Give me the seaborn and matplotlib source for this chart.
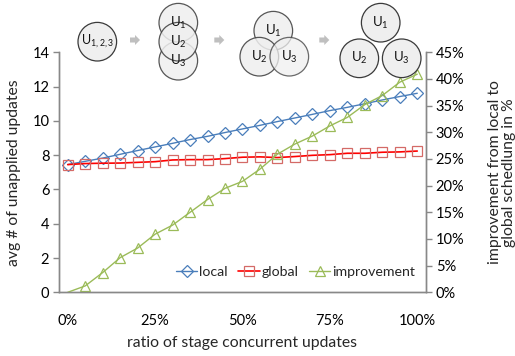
import numpy as np
import pandas as pd
import matplotlib
matplotlib.use("Agg")
import matplotlib.pyplot as plt
import seaborn as sns
from matplotlib.patches import Circle, Polygon

ratio = [0, 5, 10, 15, 20, 25, 30, 35, 40, 45, 50, 55, 60, 65, 70, 75, 80, 85, 90, 95, 100]
local = [7.45, 7.64, 7.83, 8.05, 8.27, 8.48, 8.69, 8.91, 9.10, 9.32, 9.53,
         9.74, 9.96, 10.17, 10.38, 10.60, 10.79, 11.00, 11.22, 11.42, 11.61]
glob = [7.45, 7.51, 7.53, 7.54, 7.58, 7.62, 7.72, 7.74, 7.74, 7.80, 7.88,
        7.90, 7.86, 7.92, 7.99, 8.03, 8.11, 8.11, 8.17, 8.19, 8.24]
improvement = [0.0, 1.2, 3.7, 6.5, 8.3, 10.9, 12.6, 15.0, 17.4, 19.5, 20.8,
               23.1, 25.9, 27.8, 29.3, 31.2, 32.8, 35.2, 36.9, 39.4, 40.9]
x_ticks = [0, 25, 50, 75, 100]
x_ticklabels = ["0%", "25%", "50%", "75%", "100%"]
y_ticks = [0, 2, 4, 6, 8, 10, 12, 14]
y2_ticks = [0, 5, 10, 15, 20, 25, 30, 35, 40, 45]
y2_ticklabels = [f"{v}%" for v in y2_ticks]

sns.set_style("white")
plt.rcParams["font.family"] = ["Lato", "DejaVu Sans"]
plt.rcParams["mathtext.default"] = "regular"

W, H = 515, 356
fig = plt.figure(figsize=(W / 100, H / 100), dpi=100)
ax = fig.add_axes([59 / W, 1 - 292.3 / H, (426 - 59) / W, (292.3 - 52.3) / H])
ax2 = ax.twinx()

df = pd.DataFrame({"ratio": ratio, "local": local, "global": glob, "improvement": improvement})

c_local = "#4a7ebb"
c_glob_line = "#ff0000"
c_glob_mk = "#d46a67"
c_imp = "#9bbb59"

sns.lineplot(data=df, x="ratio", y="local", ax=ax, color=c_local, lw=1.0,
             marker="D", markersize=6, markerfacecolor="none",
             markeredgecolor=c_local, markeredgewidth=0.9, label="local", legend=False)
sns.lineplot(data=df, x="ratio", y="global", ax=ax, color=c_glob_line, lw=1.2,
             marker="s", markersize=7.5, markerfacecolor="none",
             markeredgecolor=c_glob_mk, markeredgewidth=0.9, label="global", legend=False)
sns.lineplot(data=df, x="ratio", y="improvement", ax=ax2, color=c_imp, lw=1.0,
             marker="^", markersize=7.5, markerfacecolor="none",
             markeredgecolor=c_imp, markeredgewidth=0.9, label="improvement",
             markevery=list(range(1, len(ratio))), legend=False)

spine_c = "#888888"
for a in (ax, ax2):
    a.set_xlim(-2.5, 102.5)
    for s in a.spines.values():
        s.set_color(spine_c)
        s.set_linewidth(1.0)
    a.spines["top"].set_visible(False)

ax.set_ylim(0, 14)
ax.set_yticks(y_ticks)
ax.set_xticks(x_ticks)
ax.set_xticklabels(x_ticklabels)
ax2.set_ylim(0, 45)
ax2.set_yticks(y2_ticks)
ax2.set_yticklabels(y2_ticklabels)

ax.tick_params(axis="y", which="major", left=True, length=4, width=1, color=spine_c,
               labelsize=10.5, pad=3, labelcolor="#000000")
ax.tick_params(axis="x", bottom=False, labelsize=10.5, pad=12, labelcolor="#000000")
ax2.tick_params(axis="y", right=True, length=4, width=1, color=spine_c,
                labelsize=10.5, pad=3, labelcolor="#000000")

lab_fs = 11.3
ax.set_xlabel("ratio of stage concurrent updates", fontsize=lab_fs, labelpad=6)
ax.set_ylabel("avg # of unapplied updates", fontsize=lab_fs, labelpad=8)
ax2.set_ylabel("improvement from local to\nglobal schedlung in %", fontsize=lab_fs,
               labelpad=17, linespacing=0.95)

h1, l1 = ax.get_legend_handles_labels()
h2, l2 = ax2.get_legend_handles_labels()
leg = ax2.legend(h1 + h2, l1 + l2, loc="center right", bbox_to_anchor=(0.985, 0.085),
                 ncol=3, frameon=False, fontsize=10.2, handlelength=1.5,
                 handletextpad=0.12, columnspacing=0.75, borderaxespad=0)

# decorative illustration on top
ov = fig.add_axes([0, 0, 1, 1], zorder=10)
ov.set_xlim(0, W)
ov.set_ylim(H, 0)
ov.set_aspect("equal")
ov.axis("off")
ov.patch.set_alpha(0)

R = 19.3
fill = "#efefef"
edge = "#3a3a3a"

def circ(x, y, label, alpha=0.85, fs=9.5):
    ov.add_patch(Circle((x, y), R, facecolor=fill, edgecolor=edge, lw=0.9, alpha=alpha))
    ov.text(x, y, label, ha="center", va="center", fontsize=fs, color="#111111")

def arrow(x, y):
    pts = [(x - 5, y - 2.5), (x, y - 2.5), (x, y - 5), (x + 5, y), (x, y + 5), (x, y + 2.5), (x - 5, y + 2.5)]
    ov.add_patch(Polygon(pts, closed=True, facecolor="#bfbfbf", edgecolor="none"))

circ(97.3, 41.7, r"$U_{1,2,3}$", alpha=1.0, fs=9)
arrow(135, 40)
circ(178.3, 60.7, r"$U_3$")
circ(178.3, 22.7, r"$U_1$")
circ(178.3, 41.7, r"$U_2$")
arrow(219.3, 40)
circ(273.3, 30.7, r"$U_1$")
circ(259.3, 56.7, r"$U_2$")
circ(289.3, 56.7, r"$U_3$", alpha=0.75)
arrow(324.3, 40)
circ(380.7, 22.7, r"$U_1$", alpha=1.0)
circ(359.3, 58.3, r"$U_2$", alpha=1.0)
circ(401.7, 58.3, r"$U_3$", alpha=1.0)

fig.savefig("out.png", dpi=100)
